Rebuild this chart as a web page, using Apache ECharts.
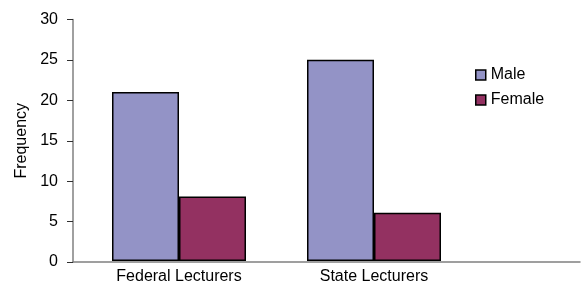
<!DOCTYPE html>
<html>
<head>
<meta charset="utf-8">
<script src="https://cdn.jsdelivr.net/npm/echarts@6/dist/echarts.min.js"></script>
<style>
  html, body { margin: 0; padding: 0; background: #fff; }
  #chart { width: 582px; height: 285px; }
</style>
</head>
<body>
<div id="chart"></div>
<script>
let categories = ['Federal Lecturers', 'State Lecturers'];
let seriesNames = ['Male', 'Female'];
let maleValues = [21, 25];
let femaleValues = [8, 6];
let yTicks = { min: 0, max: 30, interval: 5 };

function setChart(){
    let myChart = echarts.init(document.getElementById('chart'));
    let font = 'Liberation Sans, Arial, sans-serif';

    let option = {
        animation: false,
        textStyle: { fontFamily: font },
        legend: {
            orient: 'vertical',
            left: 470,
            top: 62,
            icon: 'rect',
            itemWidth: 10,
            itemHeight: 10,
            itemGap: 9,
            data: seriesNames,
            textStyle: { fontSize: 16, color: '#000', fontFamily: font },
            itemStyle: { borderColor: '#000', borderWidth: 1.5 }
        },
        // grid 0 : y axis and long x axis line, grid 1 : bars
        grid: [
            { left: 73, right: 2, top: 19.5, bottom: 23 },
            { left: 81.5, width: 390, top: 19.5, bottom: 23 }
        ],
        xAxis: [{
            gridIndex: 0,
            type: 'value',
            min: 0,
            max: 1,
            axisLine: { show: true, lineStyle: { color: '#808080', width: 1.5 } },
            axisTick: { show: false },
            axisLabel: { show: false },
            splitLine: { show: false }
        }, {
            gridIndex: 1,
            type: 'category',
            data: categories,
            axisLine: { show: false },
            axisTick: { show: false },
            axisLabel: { color: '#000', fontSize: 16, margin: 8, fontFamily: font }
        }],
        yAxis: [{
            gridIndex: 0,
            type: 'value',
            min: yTicks.min,
            max: yTicks.max,
            interval: yTicks.interval,
            name: 'Frequency',
            nameLocation: 'middle',
            nameRotate: 90,
            nameGap: 41,
            nameTextStyle: { color: '#000', fontSize: 16, fontFamily: font },
            axisLine: { show: true, lineStyle: { color: '#808080', width: 1.5 } },
            axisTick: { show: true, inside: false, length: 6, lineStyle: { color: '#303030', width: 1 } },
            axisLabel: { color: '#000', fontSize: 16, margin: 15, fontFamily: font },
            splitLine: { show: false }
        }, {
            gridIndex: 1,
            type: 'value',
            min: yTicks.min,
            max: yTicks.max,
            interval: yTicks.interval,
            show: false
        }],
        series: [{
            name: seriesNames[0],
            type: 'bar',
            xAxisIndex: 1,
            yAxisIndex: 1,
            barWidth: 67,
            barGap: '0%',
            data: maleValues,
            itemStyle: { color: '#9393c6', borderColor: '#000', borderWidth: 1.5 }
        }, {
            name: seriesNames[1],
            type: 'bar',
            xAxisIndex: 1,
            yAxisIndex: 1,
            barWidth: 67,
            barGap: '0%',
            data: femaleValues,
            itemStyle: { color: '#933161', borderColor: '#000', borderWidth: 1.5 }
        }]
    };

    myChart.setOption(option);
}

window.onload = function (){
    setChart();
}
</script>
</body>
</html>
